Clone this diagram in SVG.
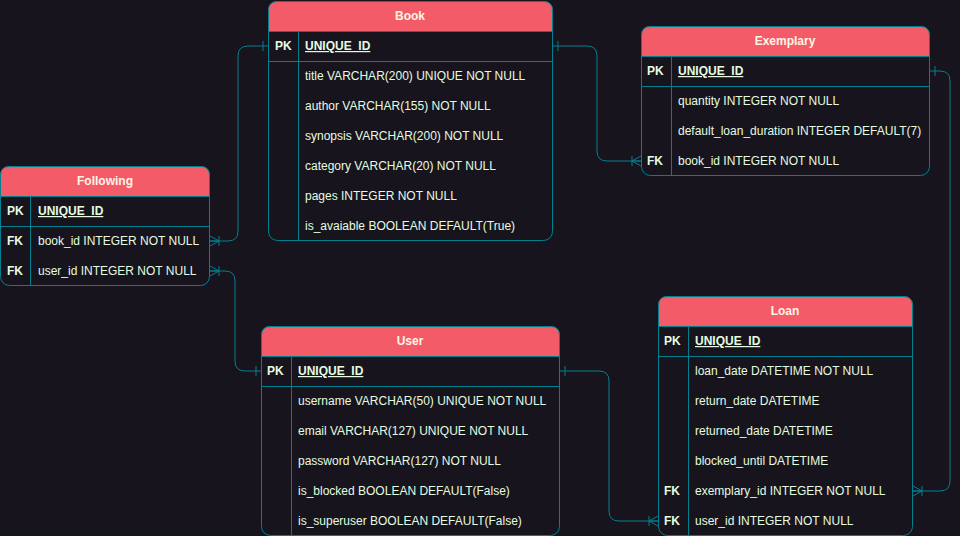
<svg xmlns="http://www.w3.org/2000/svg" width="960" height="536" viewBox="0 0 960 536">
  <style>
    .bg { fill: #18141d; }
    .frame { fill: #18141d; stroke: #028090; stroke-width: 1; }
    .head { fill: #f45b69; stroke: #028090; stroke-width: 1; }
    .rule { stroke: #028090; stroke-width: 1; fill: none; }
    .title { font-family: "Liberation Sans", Arial, sans-serif; font-size: 12px; font-weight: bold; fill: #fdf5e4; text-anchor: middle; }
    .key { font-family: "Liberation Sans", Arial, sans-serif; font-size: 12px; font-weight: bold; fill: #e4fde1; }
    .pk { font-family: "Liberation Sans", Arial, sans-serif; font-size: 12px; font-weight: bold; fill: #e4fde1; text-decoration: underline; }
    .field { font-family: "Liberation Sans", Arial, sans-serif; font-size: 12px; fill: #e4fde1; }
    .link { fill: none; stroke: #028090; stroke-width: 1; }
  </style>
  <defs>
    <!-- single bar: "exactly one" end -->
    <marker id="one" markerUnits="userSpaceOnUse" markerWidth="20" markerHeight="20" refX="0" refY="0" viewBox="-10 -10 20 20" orient="auto-start-reverse" overflow="visible">
      <path d="M-5,-5 V5" stroke="#028090" stroke-width="1" fill="none"/>
    </marker>
    <!-- bar plus crow's foot: "one or many" end -->
    <marker id="many" markerUnits="userSpaceOnUse" markerWidth="20" markerHeight="20" refX="0" refY="0" viewBox="-10 -10 20 20" orient="auto" overflow="visible">
      <path d="M-9,-5 V5 M-9,0 L0,-5 M-9,0 L0,5 M-9,0 H0" stroke="#028090" stroke-width="1" fill="none"/>
    </marker>
  </defs>

  <rect class="bg" x="0" y="0" width="960" height="536"/>

  <g id="connectors">
    <path class="link" d="M268,46 H248 Q238,46 238,56 V231 Q238,241 228,241 H210" marker-start="url(#one)" marker-end="url(#many)"/>
    <path class="link" d="M261,371 H245 Q235,371 235,361 V281 Q235,271 225,271 H210" marker-start="url(#one)" marker-end="url(#many)"/>
    <path class="link" d="M553,46 H587 Q597,46 597,56 V151 Q597,161 607,161 H641" marker-start="url(#one)" marker-end="url(#many)"/>
    <path class="link" d="M930,71 H940 Q950,71 950,81 V481 Q950,491 940,491 H913" marker-start="url(#one)" marker-end="url(#many)"/>
    <path class="link" d="M560,371 H599 Q609,371 609,381 V511 Q609,521 619,521 H658" marker-start="url(#one)" marker-end="url(#many)"/>
  </g>

  <!-- Book -->
  <g id="book">
    <rect class="frame" x="268.5" y="1.5" width="284" height="239" rx="9"/>
    <path class="head" d="M268.5,31.5 V10.5 Q268.5,1.5 277.5,1.5 H543.5 Q552.5,1.5 552.5,10.5 V31.5 Z"/>
    <path class="rule" d="M268.5,61.5 H552.5 M298.5,31.5 V240.5"/>
    <text class="title" x="410" y="20">Book</text>
    <text class="key" x="275" y="50">PK</text>
    <text class="pk" x="305" y="50">UNIQUE_ID</text>
    <text class="field" x="305" y="80">title VARCHAR(200) UNIQUE NOT NULL</text>
    <text class="field" x="305" y="110">author VARCHAR(155) NOT NULL</text>
    <text class="field" x="305" y="140">synopsis VARCHAR(200) NOT NULL</text>
    <text class="field" x="305" y="170">category VARCHAR(20) NOT NULL</text>
    <text class="field" x="305" y="200">pages INTEGER NOT NULL</text>
    <text class="field" x="305" y="230">is_avaiable BOOLEAN DEFAULT(True)</text>
  </g>

  <!-- Exemplary -->
  <g id="exemplary">
    <rect class="frame" x="641.5" y="26.5" width="288" height="149" rx="9"/>
    <path class="head" d="M641.5,56.5 V35.5 Q641.5,26.5 650.5,26.5 H920.5 Q929.5,26.5 929.5,35.5 V56.5 Z"/>
    <path class="rule" d="M641.5,86.5 H929.5 M671.5,56.5 V175.5"/>
    <text class="title" x="785" y="45">Exemplary</text>
    <text class="key" x="647" y="75">PK</text>
    <text class="pk" x="678" y="75">UNIQUE_ID</text>
    <text class="field" x="678" y="105">quantity INTEGER NOT NULL</text>
    <text class="field" x="678" y="135">default_loan_duration INTEGER DEFAULT(7)</text>
    <text class="key" x="647" y="165">FK</text>
    <text class="field" x="678" y="165">book_id INTEGER NOT NULL</text>
  </g>

  <!-- Following -->
  <g id="following">
    <rect class="frame" x="0.5" y="166.5" width="209" height="119" rx="9"/>
    <path class="head" d="M0.5,196.5 V175.5 Q0.5,166.5 9.5,166.5 H200.5 Q209.5,166.5 209.5,175.5 V196.5 Z"/>
    <path class="rule" d="M0.5,226.5 H209.5 M30.5,196.5 V285.5"/>
    <text class="title" x="105" y="185">Following</text>
    <text class="key" x="7" y="215">PK</text>
    <text class="pk" x="38" y="215">UNIQUE_ID</text>
    <text class="key" x="7" y="245">FK</text>
    <text class="field" x="38" y="245">book_id INTEGER NOT NULL</text>
    <text class="key" x="7" y="275">FK</text>
    <text class="field" x="38" y="275">user_id INTEGER NOT NULL</text>
  </g>

  <!-- User -->
  <g id="user">
    <rect class="frame" x="261.5" y="326.5" width="298" height="209" rx="9"/>
    <path class="head" d="M261.5,356.5 V335.5 Q261.5,326.5 270.5,326.5 H550.5 Q559.5,326.5 559.5,335.5 V356.5 Z"/>
    <path class="rule" d="M261.5,386.5 H559.5 M291.5,356.5 V535.5"/>
    <text class="title" x="410" y="345">User</text>
    <text class="key" x="267" y="375">PK</text>
    <text class="pk" x="298" y="375">UNIQUE_ID</text>
    <text class="field" x="298" y="405">username VARCHAR(50) UNIQUE NOT NULL</text>
    <text class="field" x="298" y="435">email VARCHAR(127) UNIQUE NOT NULL</text>
    <text class="field" x="298" y="465">password VARCHAR(127) NOT NULL</text>
    <text class="field" x="298" y="495">is_blocked BOOLEAN DEFAULT(False)</text>
    <text class="field" x="298" y="525">is_superuser BOOLEAN DEFAULT(False)</text>
  </g>

  <!-- Loan -->
  <g id="loan">
    <rect class="frame" x="658.5" y="296.5" width="254" height="239" rx="9"/>
    <path class="head" d="M658.5,326.5 V305.5 Q658.5,296.5 667.5,296.5 H903.5 Q912.5,296.5 912.5,305.5 V326.5 Z"/>
    <path class="rule" d="M658.5,356.5 H912.5 M688.5,326.5 V535.5"/>
    <text class="title" x="785" y="315">Loan</text>
    <text class="key" x="664" y="345">PK</text>
    <text class="pk" x="695" y="345">UNIQUE_ID</text>
    <text class="field" x="695" y="375">loan_date DATETIME NOT NULL</text>
    <text class="field" x="695" y="405">return_date DATETIME</text>
    <text class="field" x="695" y="435">returned_date DATETIME</text>
    <text class="field" x="695" y="465">blocked_until DATETIME</text>
    <text class="key" x="664" y="495">FK</text>
    <text class="field" x="695" y="495">exemplary_id INTEGER NOT NULL</text>
    <text class="key" x="664" y="525">FK</text>
    <text class="field" x="695" y="525">user_id INTEGER NOT NULL</text>
  </g>
</svg>
